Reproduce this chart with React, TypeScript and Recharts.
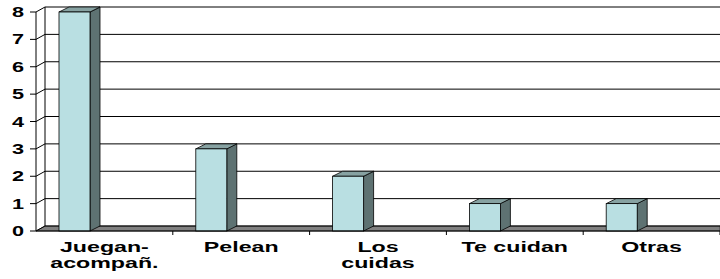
import { BarChart, Bar, XAxis, YAxis, CartesianGrid } from 'recharts';

const categories = ['Juegan-\nacompañ.', 'Pelean', 'Los\ncuidas', 'Te cuidan', 'Otras'];
const values = [8, 3, 2, 1, 1];
const yTicks = [0, 1, 2, 3, 4, 5, 6, 7, 8];

const data = categories.map((name, i) => ({ name, value: values[i] }));

const W = 720;
const H = 279;
const Y_W = 36;
const TOP = 12;
const X_H = 48;
const BOTTOM = H - X_H;
const BAND = (W - Y_W) / categories.length;

// depth offsets of the fake 3d
const DX = 9;
const DY = 5;
const BDX = 10;
const BDY = 5;
const BAR_SHIFT = -30;

const FONT = '"Liberation Sans", Arial, sans-serif';

const GridLine = (p: any) => {
  const { x1, x2, y1 } = p;
  const isFloor = Math.abs(y1 - BOTTOM) < 0.5;
  return (
    <g key={p.key}>
      {isFloor && (
        <>
          <polygon
            points={`${x1},${y1} ${x2},${y1} ${x2},${y1 - DY} ${x1 + DX},${y1 - DY}`}
            fill="#808080"
            stroke="#333"
            strokeWidth={0.8}
          />
          <line x1={x1 + DX} y1={TOP - DY} x2={x1 + DX} y2={BOTTOM - DY} stroke="#000" />
        </>
      )}
      <line x1={x1} y1={y1} x2={x1 + DX} y2={y1 - DY} stroke="#000" />
      <line x1={x1 + DX} y1={y1 - DY} x2={x2} y2={y1 - DY} stroke="#000" />
    </g>
  );
};

const Bar3D = (p: any) => {
  const { y, width: w, height: h } = p;
  const x = p.x + BAR_SHIFT;
  if (!h) return null;
  return (
    <g stroke="#000" strokeWidth={0.8}>
      <polygon
        points={`${x + w},${y} ${x + w + BDX},${y - BDY} ${x + w + BDX},${y + h - BDY} ${x + w},${y + h}`}
        fill="#5E7272"
      />
      <polygon
        points={`${x},${y} ${x + BDX},${y - BDY} ${x + w + BDX},${y - BDY} ${x + w},${y}`}
        fill="#87A2A2"
      />
      <rect x={x} y={y} width={w} height={h} fill="#B9DFE2" />
    </g>
  );
};

const YTick = (p: any) => (
  <text
    transform={`translate(${p.x},${p.y}) scale(1.55,1)`}
    textAnchor="end"
    dy="0.36em"
    fontSize={14}
    fontWeight="bold"
    fontFamily={FONT}
    fill="#000"
  >
    {p.payload.value}
  </text>
);

const XTick = (p: any) => {
  const lines = String(p.payload.value).split('\n');
  const edge = p.x + BAND / 2;
  return (
    <g>
      <line x1={edge} y1={p.y} x2={edge} y2={p.y + 4} stroke="#000" />
      {lines.map((t, i) => (
        <text
          key={i}
          transform={`translate(${p.x},${p.y + 21 + i * 16}) scale(1.6,1)`}
          textAnchor="middle"
          fontSize={14.5}
          fontWeight="bold"
          fontFamily={FONT}
          fill="#000"
        >
          {t}
        </text>
      ))}
    </g>
  );
};

export default function App() {
  return (
    <div style={{ position: 'absolute', left: 0, top: 0, width: W, height: H, background: '#fff' }}>
      <BarChart
        width={W}
        height={H}
        data={data}
        margin={{ top: TOP, right: 0, bottom: 0, left: 0 }}
        barSize={31}
      >
        <CartesianGrid vertical={false} horizontal={GridLine} />
        <XAxis
          dataKey="name"
          height={X_H}
          interval={0}
          tick={XTick}
          tickLine={false}
          tickSize={0}
          tickMargin={0}
          axisLine={{ stroke: '#000' }}
        />
        <YAxis
          width={Y_W}
          domain={[0, 8]}
          ticks={yTicks}
          interval={0}
          tick={YTick}
          tickSize={6}
          tickMargin={6}
          tickLine={{ stroke: '#000' }}
          axisLine={{ stroke: '#000' }}
        />
        <Bar dataKey="value" shape={Bar3D} isAnimationActive={false} />
      </BarChart>
    </div>
  );
}
